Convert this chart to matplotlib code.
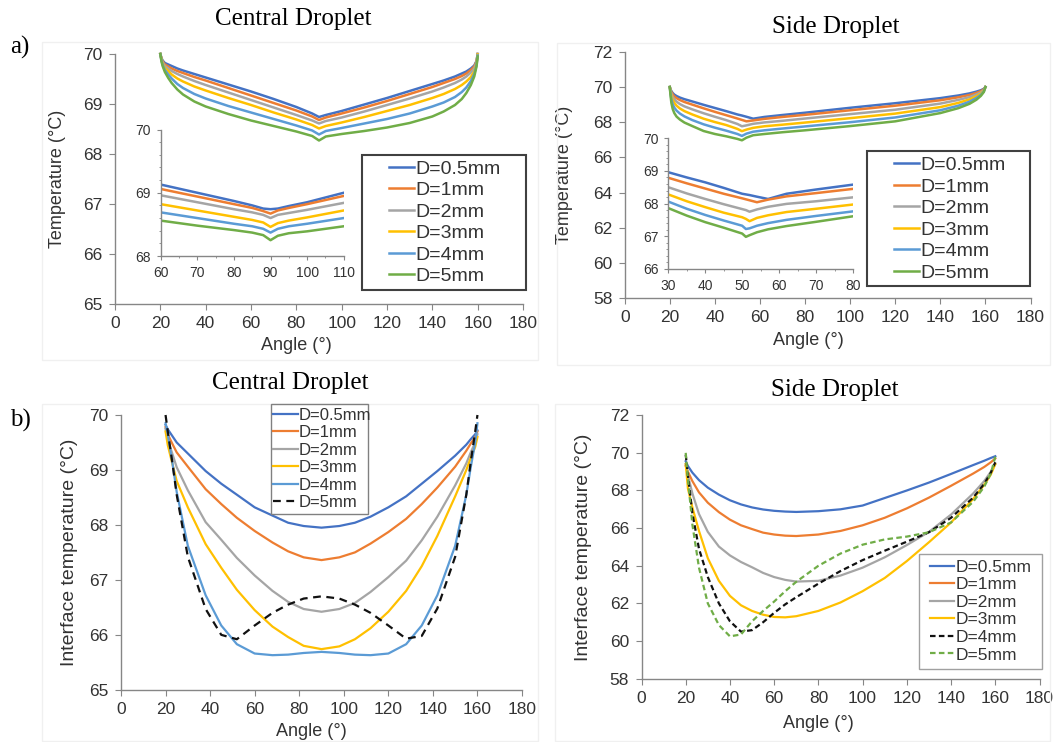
import matplotlib
matplotlib.use("Agg")
import matplotlib.pyplot as plt
from matplotlib.patches import Rectangle
from matplotlib.ticker import MultipleLocator

W, H = 1055, 742
plt.rcParams['font.family'] = ['Liberation Sans', 'DejaVu Sans']

labels = ["D=0.5mm", "D=1mm", "D=2mm", "D=3mm", "D=4mm", "D=5mm"]
colors = ["#4472C4", "#ED7D31", "#A5A5A5", "#FFC000", "#5B9BD5", "#70AD47"]

# a) central droplet, main plot
ac_x = [20, 20.5, 21, 22, 23.5, 25, 27.5, 30, 35, 40, 50, 60, 70, 80, 87, 90, 93, 100, 110, 120, 130, 140, 145, 150, 153, 155, 157, 158.5, 159.5, 160]
ac_05 = [70.0, 69.92, 69.87, 69.82, 69.79, 69.76, 69.71, 69.67, 69.60, 69.53, 69.39, 69.25, 69.10, 68.94, 68.81, 68.74, 68.78, 68.86, 68.99, 69.12, 69.26, 69.40, 69.47, 69.55, 69.61, 69.65, 69.71, 69.77, 69.86, 70.0]
ac_1 = [70.0, 69.91, 69.85, 69.79, 69.75, 69.71, 69.66, 69.62, 69.54, 69.47, 69.32, 69.17, 69.02, 68.87, 68.75, 68.68, 68.73, 68.81, 68.93, 69.06, 69.20, 69.34, 69.42, 69.50, 69.56, 69.61, 69.68, 69.75, 69.85, 70.0]
ac_2 = [70.0, 69.90, 69.83, 69.76, 69.71, 69.66, 69.60, 69.55, 69.46, 69.38, 69.23, 69.08, 68.93, 68.78, 68.67, 68.61, 68.66, 68.73, 68.85, 68.98, 69.11, 69.25, 69.33, 69.42, 69.49, 69.55, 69.63, 69.71, 69.83, 70.0]
ac_3 = [70.0, 69.89, 69.81, 69.72, 69.66, 69.59, 69.51, 69.45, 69.35, 69.27, 69.12, 68.98, 68.83, 68.69, 68.58, 68.51, 68.56, 68.63, 68.74, 68.86, 68.98, 69.12, 69.20, 69.30, 69.38, 69.45, 69.54, 69.65, 69.80, 69.99]
ac_4 = [70.0, 69.87, 69.79, 69.68, 69.59, 69.51, 69.40, 69.32, 69.20, 69.11, 68.96, 68.83, 68.70, 68.57, 68.47, 68.39, 68.46, 68.52, 68.61, 68.70, 68.81, 68.95, 69.03, 69.14, 69.24, 69.33, 69.46, 69.60, 69.78, 69.97]
ac_5 = [70.0, 69.85, 69.76, 69.64, 69.52, 69.42, 69.29, 69.19, 69.05, 68.95, 68.80, 68.67, 68.56, 68.45, 68.36, 68.27, 68.35, 68.40, 68.46, 68.53, 68.62, 68.75, 68.85, 68.98, 69.10, 69.22, 69.38, 69.55, 69.75, 69.95]

# a) central droplet, inset
aci_x = [60, 70, 80, 85, 88, 90, 92, 95, 100, 110]
aci_05 = [69.13, 69.00, 68.87, 68.80, 68.75, 68.74, 68.75, 68.79, 68.85, 69.00]
aci_1 = [69.06, 68.94, 68.82, 68.76, 68.71, 68.67, 68.72, 68.76, 68.82, 68.95]
aci_2 = [68.96, 68.85, 68.74, 68.69, 68.65, 68.60, 68.65, 68.68, 68.73, 68.84]
aci_3 = [68.82, 68.72, 68.62, 68.57, 68.53, 68.46, 68.52, 68.56, 68.61, 68.72]
aci_4 = [68.69, 68.60, 68.51, 68.47, 68.43, 68.37, 68.43, 68.47, 68.51, 68.60]
aci_5 = [68.56, 68.48, 68.41, 68.37, 68.33, 68.25, 68.32, 68.36, 68.39, 68.47]

# a) side droplet, main plot
asd_x = [20, 20.3, 20.7, 21.3, 22, 23, 24.5, 26.5, 30, 35, 40, 45, 50, 52, 54, 57, 62, 70, 80, 100, 120, 140, 148, 153, 156, 158, 159.3, 160]
asd_05 = [70.0, 69.88, 69.77, 69.66, 69.57, 69.49, 69.40, 69.31, 69.18, 68.99, 68.81, 68.63, 68.44, 68.38, 68.31, 68.20, 68.30, 68.41, 68.54, 68.82, 69.08, 69.37, 69.52, 69.64, 69.74, 69.82, 69.90, 70.0]
asd_1 = [70.0, 69.85, 69.72, 69.58, 69.47, 69.37, 69.26, 69.15, 69.00, 68.79, 68.59, 68.40, 68.21, 68.13, 68.05, 68.10, 68.19, 68.30, 68.42, 68.68, 68.94, 69.25, 69.42, 69.55, 69.67, 69.77, 69.87, 70.0]
asd_2 = [70.0, 69.80, 69.62, 69.44, 69.30, 69.17, 69.03, 68.90, 68.73, 68.51, 68.31, 68.12, 67.90, 67.77, 67.82, 67.91, 67.99, 68.08, 68.21, 68.46, 68.71, 69.06, 69.27, 69.43, 69.58, 69.70, 69.83, 70.0]
asd_3 = [70.0, 69.74, 69.50, 69.27, 69.10, 68.94, 68.78, 68.63, 68.44, 68.20, 68.01, 67.84, 67.62, 67.49, 67.58, 67.68, 67.77, 67.86, 67.98, 68.23, 68.49, 68.86, 69.10, 69.30, 69.48, 69.63, 69.79, 70.0]
asd_4 = [70.0, 69.65, 69.32, 69.02, 68.83, 68.66, 68.49, 68.33, 68.12, 67.88, 67.69, 67.52, 67.33, 67.22, 67.35, 67.46, 67.54, 67.64, 67.76, 68.00, 68.27, 68.68, 68.94, 69.17, 69.38, 69.56, 69.75, 70.0]
asd_5 = [70.0, 69.55, 69.10, 68.75, 68.52, 68.32, 68.15, 67.98, 67.78, 67.50, 67.33, 67.20, 67.05, 66.97, 67.12, 67.26, 67.33, 67.43, 67.54, 67.78, 68.05, 68.52, 68.80, 69.05, 69.28, 69.50, 69.72, 70.0]

# a) side droplet, inset
asi_x = [30, 35, 40, 45, 50, 51, 52, 54, 57, 62, 70, 80]
asi_05 = [68.96, 68.80, 68.65, 68.48, 68.30, 68.28, 68.26, 68.21, 68.14, 68.30, 68.43, 68.58]
asi_1 = [68.79, 68.62, 68.46, 68.30, 68.16, 68.13, 68.10, 68.04, 68.12, 68.22, 68.32, 68.45]
asi_2 = [68.50, 68.31, 68.14, 67.98, 67.83, 67.80, 67.75, 67.82, 67.90, 67.99, 68.07, 68.19]
asi_3 = [68.28, 68.07, 67.89, 67.72, 67.58, 67.53, 67.46, 67.56, 67.64, 67.74, 67.84, 67.97]
asi_4 = [68.06, 67.84, 67.65, 67.48, 67.32, 67.22, 67.24, 67.32, 67.40, 67.50, 67.62, 67.76]
asi_5 = [67.86, 67.63, 67.43, 67.26, 67.08, 66.98, 67.03, 67.12, 67.21, 67.31, 67.44, 67.61]

# b) central droplet, interface temperature
bc_x = [20, 21, 23, 25, 30, 38, 45, 52, 60, 68, 75, 82, 90, 98, 105, 112, 120, 128, 135, 142, 150, 155, 157, 159, 160]
bc_05 = [69.82, 69.74, 69.62, 69.50, 69.30, 68.98, 68.75, 68.55, 68.32, 68.17, 68.04, 67.98, 67.95, 67.98, 68.04, 68.15, 68.32, 68.52, 68.75, 68.98, 69.26, 69.46, 69.56, 69.65, 69.72]
bc_1 = [69.78, 69.65, 69.48, 69.32, 69.06, 68.65, 68.38, 68.13, 67.89, 67.68, 67.52, 67.41, 67.36, 67.41, 67.50, 67.66, 67.87, 68.11, 68.38, 68.68, 69.06, 69.35, 69.48, 69.60, 69.70]
bc_2 = [69.75, 69.55, 69.30, 69.05, 68.63, 68.05, 67.73, 67.40, 67.08, 66.80, 66.60, 66.47, 66.42, 66.47, 66.58, 66.78, 67.05, 67.35, 67.72, 68.15, 68.72, 69.12, 69.32, 69.50, 69.65]
bc_3 = [69.70, 69.45, 69.12, 68.80, 68.32, 67.65, 67.22, 66.82, 66.45, 66.15, 65.96, 65.80, 65.74, 65.79, 65.92, 66.12, 66.42, 66.80, 67.25, 67.80, 68.52, 69.00, 69.22, 69.42, 69.60]
bc_4 = [69.85, 69.65, 69.15, 68.60, 67.62, 66.72, 66.17, 65.83, 65.66, 65.63, 65.64, 65.67, 65.69, 65.67, 65.64, 65.63, 65.66, 65.83, 66.17, 66.72, 67.62, 68.55, 69.05, 69.50, 69.85]
bc_5 = [70.0, 69.70, 69.15, 68.55, 67.42, 66.47, 66.00, 65.92, 66.17, 66.40, 66.55, 66.66, 66.70, 66.66, 66.55, 66.40, 66.17, 65.93, 65.98, 66.48, 67.42, 68.55, 69.15, 69.70, 70.0]

# b) side droplet, interface temperature
bs_x = [20, 21, 23, 26, 30, 35, 40, 45, 50, 55, 60, 65, 70, 80, 90, 100, 110, 120, 130, 140, 150, 155, 158, 160]
bs_05 = [69.55, 69.30, 68.95, 68.55, 68.15, 67.78, 67.48, 67.26, 67.10, 66.99, 66.92, 66.88, 66.86, 66.90, 67.00, 67.20, 67.60, 68.00, 68.42, 68.88, 69.35, 69.58, 69.73, 69.82]
bs_1 = [69.30, 69.00, 68.50, 67.90, 67.35, 66.85, 66.45, 66.15, 65.95, 65.76, 65.66, 65.60, 65.58, 65.66, 65.85, 66.15, 66.55, 67.05, 67.62, 68.25, 68.90, 69.25, 69.50, 69.70]
bs_2 = [69.40, 68.80, 67.85, 66.75, 65.80, 65.02, 64.55, 64.20, 63.92, 63.62, 63.40, 63.25, 63.16, 63.20, 63.48, 63.90, 64.45, 65.10, 65.80, 66.72, 67.84, 68.50, 69.00, 69.40]
bs_3 = [69.40, 68.10, 67.10, 65.85, 64.40, 63.20, 62.40, 61.90, 61.60, 61.40, 61.28, 61.26, 61.32, 61.60, 62.05, 62.65, 63.35, 64.25, 65.25, 66.30, 67.55, 68.30, 68.85, 69.40]
bs_4 = [69.90, 68.80, 66.80, 64.90, 63.40, 62.00, 61.05, 60.50, 60.58, 61.00, 61.50, 61.95, 62.33, 63.05, 63.72, 64.30, 64.80, 65.28, 65.78, 66.55, 67.62, 68.35, 68.95, 69.50]
bs_5 = [70.0, 68.60, 66.20, 63.90, 62.00, 60.85, 60.25, 60.35, 61.05, 61.60, 62.10, 62.65, 63.15, 64.00, 64.65, 65.12, 65.40, 65.55, 65.78, 66.30, 67.40, 68.20, 68.90, 69.80]

AXIS_GREY = "#868686"
TXT = "#333333"


def px_axes(fig, left, top, right, bottom):
    return fig.add_axes([left / W, 1 - bottom / H, (right - left) / W, (bottom - top) / H])


def style(ax, size, tick_len=4, pad=5):
    for s in ["top", "right"]:
        ax.spines[s].set_visible(False)
    for s in ["left", "bottom"]:
        ax.spines[s].set_color(AXIS_GREY)
        ax.spines[s].set_linewidth(1.0)
    ax.tick_params(which="both", direction="out", colors=AXIS_GREY, labelcolor=TXT,
                   labelsize=size, pad=pad)
    ax.tick_params(which="major", length=tick_len)
    ax.tick_params(which="minor", length=tick_len * 0.6)
    ax.set_facecolor("none")


def fig_rect(fig, x0, y0, x1, y1, color, lw):
    fig.patches.append(Rectangle((x0 / W, 1 - y1 / H), (x1 - x0) / W, (y1 - y0) / H,
                                 transform=fig.transFigure, facecolor="white",
                                 edgecolor=color, linewidth=lw, zorder=2))


def fig_legend(fig, handles, x, y, size, hl, spacing):
    fig.legend(handles, labels, loc="center left", bbox_to_anchor=(x / W, 1 - y / H),
               bbox_transform=fig.transFigure, frameon=False, borderpad=0,
               borderaxespad=0, handlelength=hl, handletextpad=0.08,
               labelspacing=spacing, prop={"size": size}, labelcolor=TXT)


fig = plt.figure(figsize=(W / 100, H / 100), dpi=100)

# faint panel frames
for (x0, y0, x1, y1) in [(42, 42, 538, 360), (557, 43, 1050, 365), (42, 404, 538, 741), (555, 404, 1050, 741)]:
    fig.patches.append(Rectangle((x0 / W, 1 - y1 / H), (x1 - x0) / W, (y1 - y0) / H,
                                 transform=fig.transFigure, fill=False,
                                 edgecolor="#f0f0f0", linewidth=1, zorder=0))

# ---- a) central droplet
ax1 = px_axes(fig, 115, 54, 523, 304)
lines_a = []
for ys, c in zip([ac_05, ac_1, ac_2, ac_3, ac_4, ac_5], colors):
    ln, = ax1.plot(ac_x, ys, color=c, lw=1.8, clip_on=False)
    lines_a.append(ln)
ax1.set_xlim(0, 180)
ax1.set_ylim(65, 70)
ax1.xaxis.set_major_locator(MultipleLocator(20))
ax1.yaxis.set_major_locator(MultipleLocator(1))
style(ax1, 12.5, pad=5)
ax1.set_xlabel("Angle (°)", fontsize=13, color=TXT)
ax1.set_ylabel("Temperature (°C)", fontsize=13, color=TXT)
ax1.xaxis.set_label_coords(0.445, -0.134)
ax1.yaxis.set_label_coords(-0.121, 0.5)

in1 = px_axes(fig, 160.6, 129.5, 343.8, 256)
for ys, c in zip([aci_05, aci_1, aci_2, aci_3, aci_4, aci_5], colors):
    in1.plot(aci_x, ys, color=c, lw=1.8)
in1.set_xlim(60, 110)
in1.set_ylim(68, 70)
in1.xaxis.set_major_locator(MultipleLocator(10))
in1.xaxis.set_minor_locator(MultipleLocator(5))
in1.yaxis.set_major_locator(MultipleLocator(1))
in1.yaxis.set_minor_locator(MultipleLocator(0.2))
style(in1, 10, tick_len=3, pad=4)

fig_rect(fig, 361.7, 155, 526, 290, "#404040", 1.5)
fig_legend(fig, lines_a, 388.8, 222.7, 14, 1.3, 0.2)

# ---- a) side droplet
ax2 = px_axes(fig, 624.7, 51.9, 1030.5, 298)
for ys, c in zip([asd_05, asd_1, asd_2, asd_3, asd_4, asd_5], colors):
    ax2.plot(asd_x, ys, color=c, lw=1.8, clip_on=False)
ax2.set_xlim(0, 180)
ax2.set_ylim(58, 72)
ax2.xaxis.set_major_locator(MultipleLocator(20))
ax2.yaxis.set_major_locator(MultipleLocator(2))
style(ax2, 12.5, pad=5)
ax2.set_xlabel("Angle (°)", fontsize=13, color=TXT)
ax2.set_ylabel("Temperature (°C)", fontsize=13, color=TXT)
ax2.xaxis.set_label_coords(0.453, -0.137)
ax2.yaxis.set_label_coords(-0.127, 0.5)

in2 = px_axes(fig, 668.3, 138.3, 853, 268.8)
for ys, c in zip([asi_05, asi_1, asi_2, asi_3, asi_4, asi_5], colors):
    in2.plot(asi_x, ys, color=c, lw=1.8)
in2.set_xlim(30, 80)
in2.set_ylim(66, 70)
in2.xaxis.set_major_locator(MultipleLocator(10))
in2.xaxis.set_minor_locator(MultipleLocator(5))
in2.yaxis.set_major_locator(MultipleLocator(1))
in2.yaxis.set_minor_locator(MultipleLocator(0.2))
style(in2, 10, tick_len=3, pad=4)

fig_rect(fig, 866.5, 150.7, 1029.5, 286, "#404040", 1.5)
fig_legend(fig, lines_a, 894, 219, 14, 1.3, 0.2)

# ---- b) central droplet
ax3 = px_axes(fig, 121, 415, 522, 689.8)
lines_bc = []
bc_styles = [(colors[0], "-"), (colors[1], "-"), (colors[2], "-"), (colors[3], "-"),
             (colors[4], "-"), ("#111111", (0, (3.5, 2.5)))]
for ys, (c, ls) in zip([bc_05, bc_1, bc_2, bc_3, bc_4, bc_5], bc_styles):
    ln, = ax3.plot(bc_x, ys, color=c, ls=ls, lw=1.6, clip_on=False)
    lines_bc.append(ln)
ax3.set_xlim(0, 180)
ax3.set_ylim(65, 70)
ax3.xaxis.set_major_locator(MultipleLocator(20))
ax3.yaxis.set_major_locator(MultipleLocator(1))
style(ax3, 12.5, pad=5)
ax3.set_xlabel("Angle (°)", fontsize=13, color=TXT)
ax3.set_ylabel("Interface temperature (°C)", fontsize=14, color=TXT)
ax3.xaxis.set_label_coords(0.474, -0.122)
ax3.yaxis.set_label_coords(-0.107, 0.5)

fig_rect(fig, 270.5, 403.8, 367.5, 513.7, "#808080", 1.0)
fig_legend(fig, lines_bc, 273, 458.9, 12, 1.47, 0.15)

# ---- b) side droplet
ax4 = px_axes(fig, 641.5, 415.2, 1039.5, 678.7)
lines_bs = []
bs_styles = [(colors[0], "-"), (colors[1], "-"), (colors[2], "-"), (colors[3], "-"),
             ("#111111", (0, (2.5, 1.5))), (colors[5], (0, (2.5, 1.5)))]
for ys, (c, ls) in zip([bs_05, bs_1, bs_2, bs_3, bs_4, bs_5], bs_styles):
    ln, = ax4.plot(bs_x, ys, color=c, ls=ls, lw=1.6, clip_on=False)
    lines_bs.append(ln)
ax4.set_xlim(0, 180)
ax4.set_ylim(58, 72)
ax4.xaxis.set_major_locator(MultipleLocator(20))
ax4.yaxis.set_major_locator(MultipleLocator(2))
style(ax4, 12.5, pad=5)
ax4.set_xlabel("Angle (°)", fontsize=13, color=TXT)
ax4.set_ylabel("Interface temperature (°C)", fontsize=14, color=TXT)
ax4.xaxis.set_label_coords(0.445, -0.139)
ax4.yaxis.set_label_coords(-0.124, 0.5)

fig_rect(fig, 919.4, 553.5, 1042.2, 669, "#a0a0a0", 1.0)
fig_legend(fig, lines_bs, 930, 611, 12.5, 1.4, 0.14)

# titles and panel letters
serif = {"family": "Liberation Serif", "size": 18, "color": "black"}
fig.text(293 / W, 1 - 18.6 / H, "Central Droplet", ha="center", va="center", **serif)
fig.text(836 / W, 1 - 26.8 / H, "Side Droplet", ha="center", va="center", **serif)
fig.text(290.7 / W, 1 - 383.5 / H, "Central Droplet", ha="center", va="center", **serif)
fig.text(834.7 / W, 1 - 390 / H, "Side Droplet", ha="center", va="center", **serif)
fig.text(20 / W, 1 - 47 / H, "a)", ha="center", va="center", **serif)
fig.text(20 / W, 1 - 420.7 / H, "b)", ha="center", va="center", **serif)

fig.savefig("out.png", dpi=100)
